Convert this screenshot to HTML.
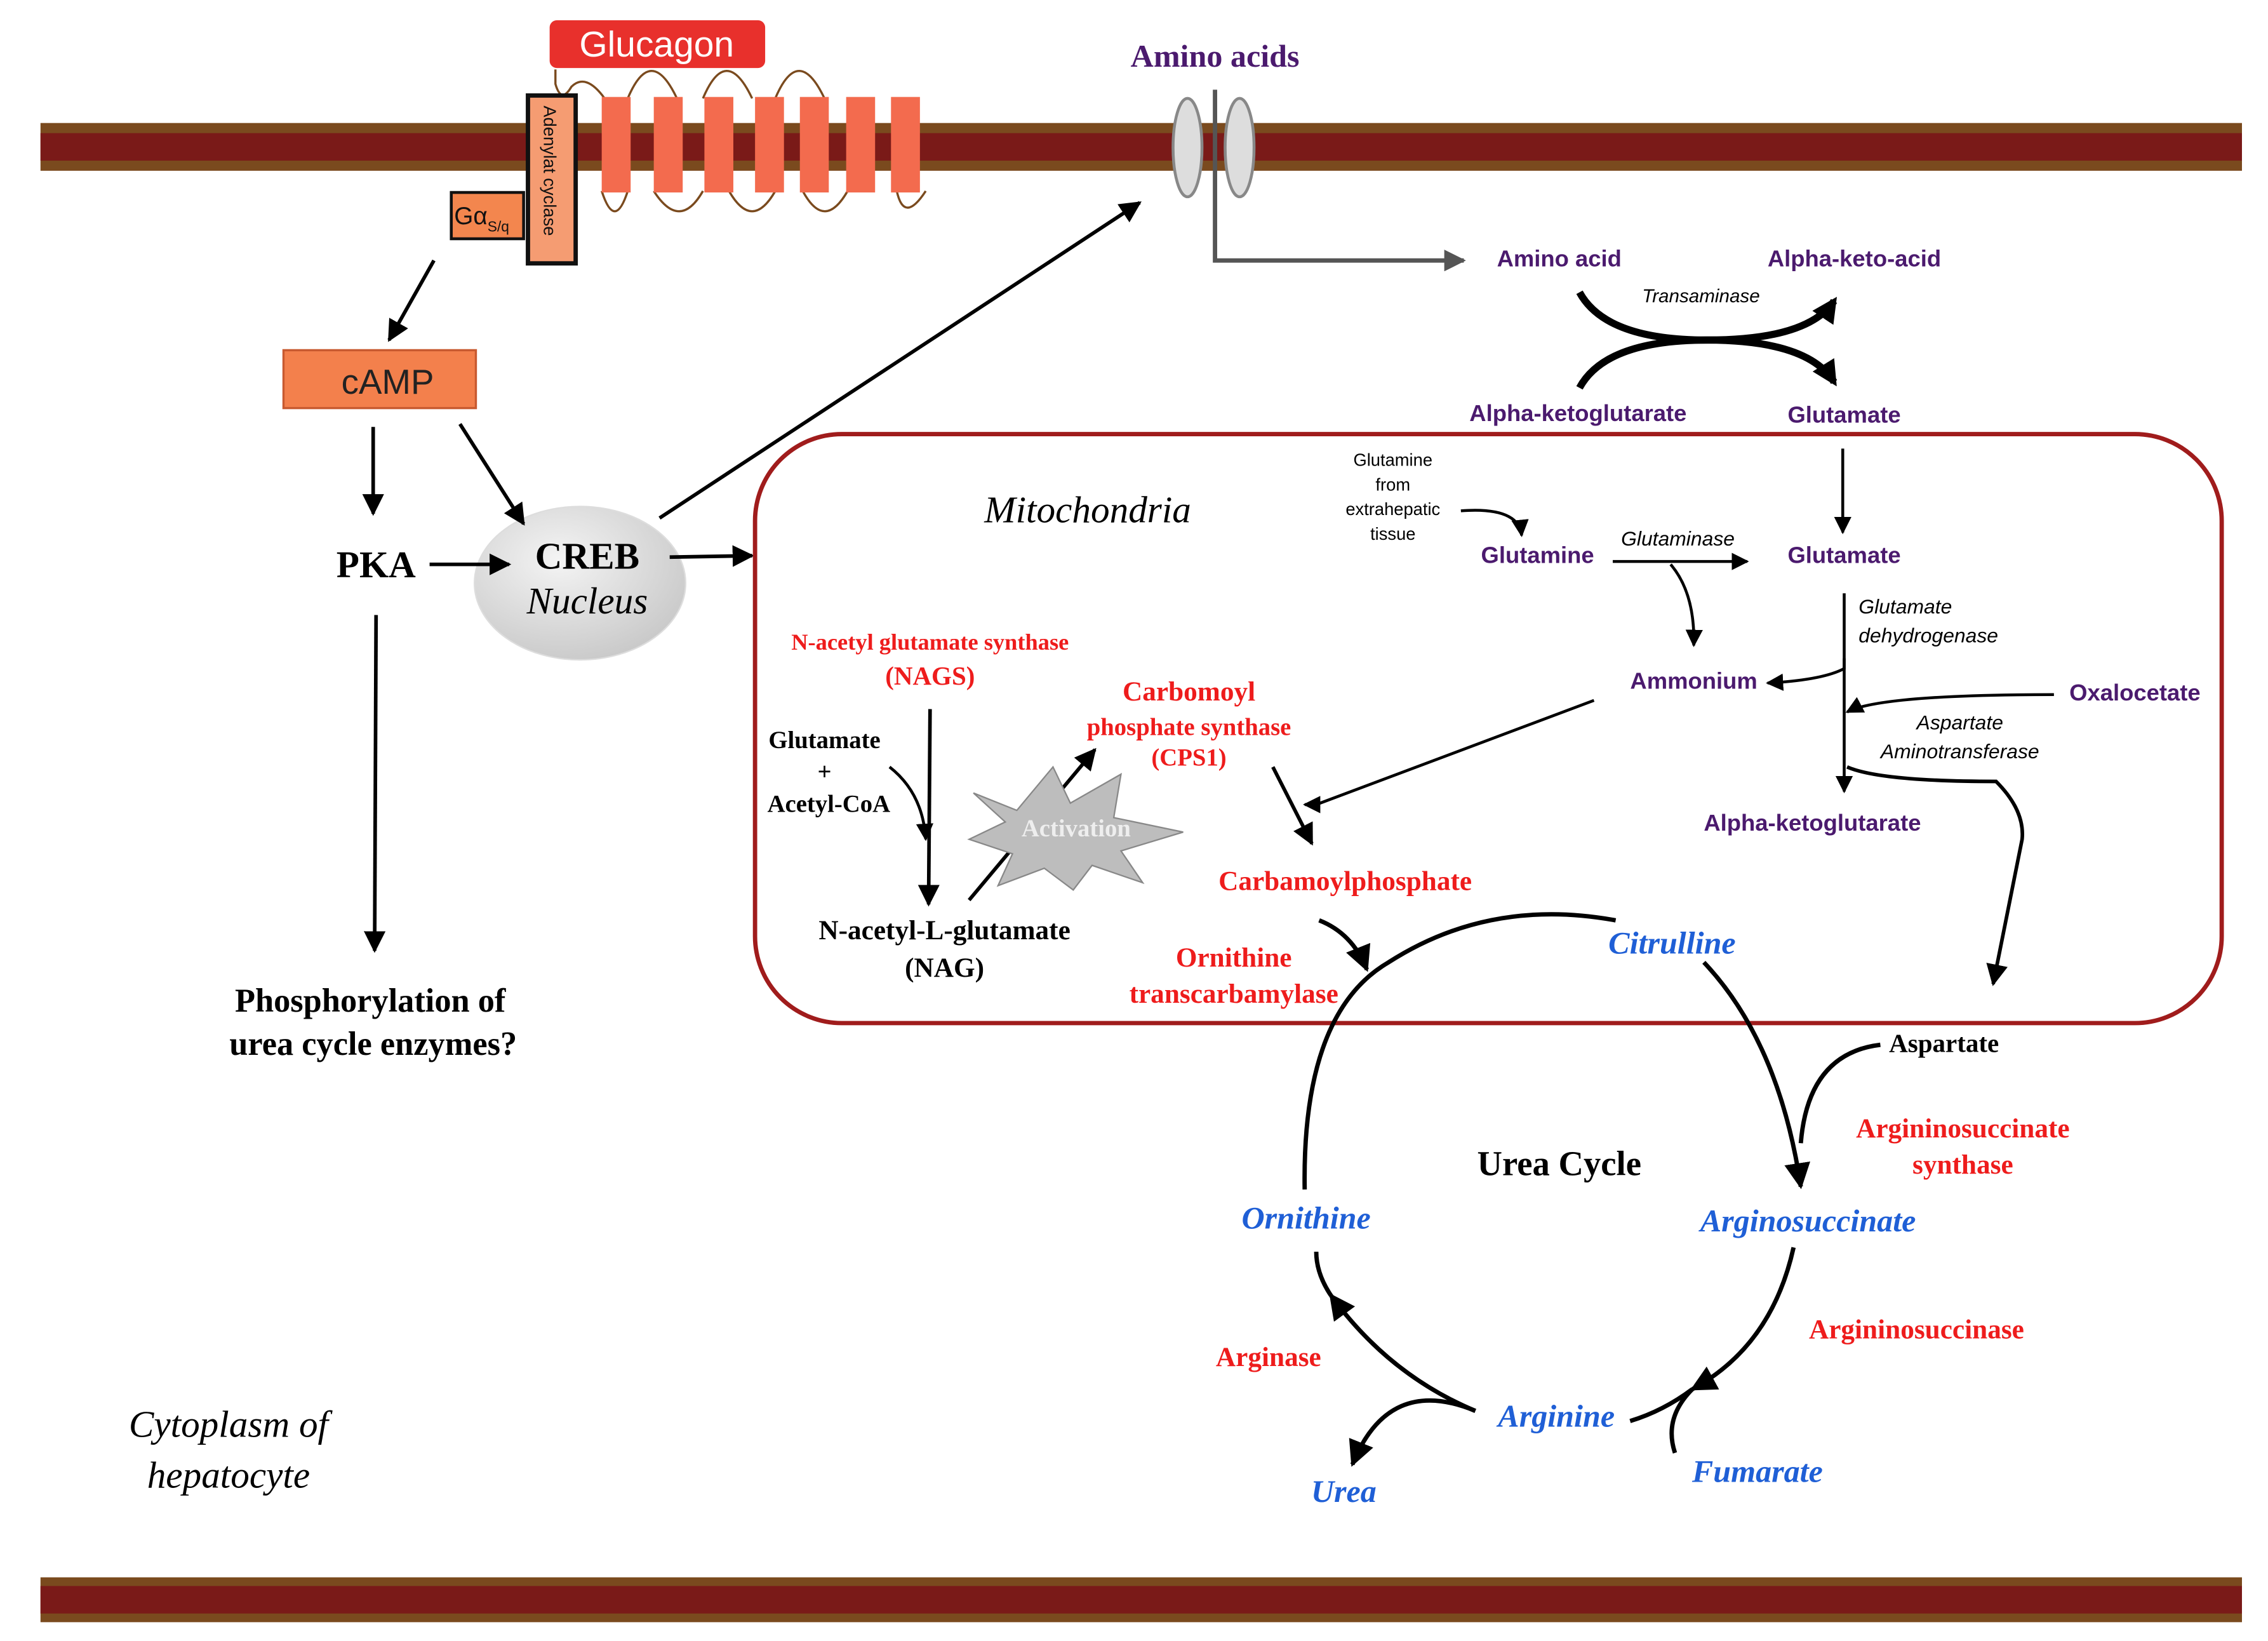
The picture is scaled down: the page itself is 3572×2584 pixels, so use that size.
<!DOCTYPE html>
<html><head><meta charset="utf-8"><style>
html,body{margin:0;padding:0;background:#fff}
svg{display:block}
.b{font-family:"Liberation Serif",serif;font-weight:bold}
.s{font-family:"Liberation Sans",sans-serif}
</style></head><body>
<svg width="3572" height="2584" viewBox="0 0 1568 1134" preserveAspectRatio="none" xmlns="http://www.w3.org/2000/svg">
<defs>
<marker id="a" viewBox="0 0 10 10" refX="9" refY="5" markerWidth="6" markerHeight="6" orient="auto"><path d="M0,0L10,5L0,10z" fill="#000"/></marker>
<marker id="k" viewBox="0 0 10 10" refX="8" refY="5" markerWidth="3.5" markerHeight="3.5" orient="auto"><path d="M0,0L10,5L0,10z" fill="#000"/></marker>
<marker id="g" viewBox="0 0 10 10" refX="9" refY="5" markerWidth="5" markerHeight="5" orient="auto"><path d="M0,0L10,5L0,10z" fill="#555"/></marker>
<radialGradient id="ng" cx="0.4" cy="0.35" r="0.7"><stop offset="0" stop-color="#f4f4f4"/><stop offset="1" stop-color="#c8c8c8"/></radialGradient>
</defs>
<rect x="28" y="85" width="1522" height="33" fill="#7a4a1e"/>
<rect x="28" y="92" width="1522" height="19" fill="#7a1a18"/>
<rect x="28" y="1090" width="1522" height="31" fill="#7a4a1e"/>
<rect x="28" y="1096" width="1522" height="19" fill="#7a1a18"/>
<path d="M384,48 L384,58 Q388,72 395,60 Q405,50 418,68 M434,68 Q450,30 468,68 M486,68 Q502,30 520,68 M536,68 Q552,30 570,68 M434,132 Q425,160 416,132 M486,132 Q470,160 452,132 M536,132 Q520,160 504,132 M586,132 Q570,160 555,132 M640,132 Q625,155 620,132" fill="none" stroke="#7a4a1e" stroke-width="1.5"/>
<g fill="#f36b4e">
<rect x="416" y="67" width="20" height="66"/><rect x="452" y="67" width="20" height="66"/><rect x="487" y="67" width="20" height="66"/><rect x="522" y="67" width="20" height="66"/><rect x="553" y="67" width="20" height="66"/><rect x="585" y="67" width="20" height="66"/><rect x="616" y="67" width="20" height="66"/>
</g>
<rect x="380" y="14" width="149" height="33" rx="5" fill="#e8302c"/>
<text x="454" y="39" text-anchor="middle" class="s" font-size="25" fill="#fff">Glucagon</text>
<rect x="365" y="66" width="33" height="116" fill="#f59c72" stroke="#111" stroke-width="3"/>
<text transform="translate(376,73) rotate(90)" class="s" font-size="12" fill="#111">Adenylat cyclase</text>
<rect x="312" y="133" width="50" height="32" fill="#f3864e" stroke="#111" stroke-width="2"/>
<text x="314" y="155" class="s" font-size="17" fill="#111">Gα<tspan font-size="10" dy="5">S/q</tspan></text>
<ellipse cx="821" cy="102" rx="10" ry="34" fill="#ddd" stroke="#888" stroke-width="2"/>
<ellipse cx="857" cy="102" rx="10" ry="34" fill="#ddd" stroke="#888" stroke-width="2"/>
<path d="M840,62 L840,180 L1012,180" fill="none" stroke="#555" stroke-width="3" marker-end="url(#g)"/>
<text x="840" y="46" text-anchor="middle" class="b" font-size="22" fill="#4b1a6e">Amino acids</text>
<rect x="196" y="242" width="133" height="40" fill="#f3804c" stroke="#c85a30" stroke-width="1.5"/>
<text x="268" y="272" text-anchor="middle" class="s" font-size="24" fill="#222">cAMP</text>
<ellipse cx="401" cy="403" rx="73" ry="53" fill="url(#ng)" stroke="#ddd"/>
<g stroke="#000" stroke-width="2.5" fill="none" marker-end="url(#a)">
<line x1="300" y1="180" x2="269" y2="235"/>
<line x1="258" y1="295" x2="258" y2="355"/>
<line x1="318" y1="293" x2="362" y2="362"/>
<line x1="297" y1="390" x2="352" y2="390"/>
<line x1="463" y1="385" x2="520" y2="384"/>
<line x1="456" y1="358" x2="788" y2="140"/>
<line x1="260" y1="425" x2="259" y2="657"/>
</g>
<text x="260" y="399" text-anchor="middle" class="b" font-size="26">PKA</text>
<text x="406" y="393" text-anchor="middle" class="b" font-size="26">CREB</text>
<text x="406" y="424" text-anchor="middle" font-family="Liberation Serif,serif" font-style="italic" font-size="26">Nucleus</text>
<text x="256" y="699" text-anchor="middle" class="b" font-size="23">Phosphorylation of</text>
<text x="258" y="729" text-anchor="middle" class="b" font-size="23">urea cycle enzymes?</text>
<text x="158" y="993" text-anchor="middle" font-family="Liberation Serif,serif" font-style="italic" font-size="26">Cytoplasm of</text>
<text x="158" y="1028" text-anchor="middle" font-family="Liberation Serif,serif" font-style="italic" font-size="26">hepatocyte</text>
<g class="s" font-weight="bold" font-size="16" fill="#4b1a6e">
<text x="1078" y="184" text-anchor="middle">Amino acid</text>
<text x="1282" y="184" text-anchor="middle">Alpha-keto-acid</text>
<text x="1091" y="291" text-anchor="middle">Alpha-ketoglutarate</text>
<text x="1275" y="292" text-anchor="middle">Glutamate</text>
<text x="1063" y="389" text-anchor="middle">Glutamine</text>
<text x="1275" y="389" text-anchor="middle">Glutamate</text>
<text x="1171" y="476" text-anchor="middle">Ammonium</text>
<text x="1476" y="484" text-anchor="middle">Oxalocetate</text>
<text x="1253" y="574" text-anchor="middle">Alpha-ketoglutarate</text>
</g>
<text x="1176" y="209" text-anchor="middle" class="s" font-style="italic" font-size="13">Transaminase</text>
<path d="M1092,202 Q1110,235 1180,235 Q1250,235 1268,208" fill="none" stroke="#000" stroke-width="5" marker-end="url(#k)"/>
<path d="M1092,268 Q1110,235 1180,235 Q1250,235 1268,264" fill="none" stroke="#000" stroke-width="5" marker-end="url(#k)"/>
<rect x="522" y="300" width="1014" height="407" rx="60" fill="none" stroke="#a01c1c" stroke-width="3"/>
<text x="752" y="361" text-anchor="middle" font-family="Liberation Serif,serif" font-style="italic" font-size="26">Mitochondria</text>
<g class="s" font-size="12" text-anchor="middle"><text x="963" y="322">Glutamine</text><text x="963" y="339">from</text><text x="963" y="356">extrahepatic</text><text x="963" y="373">tissue</text></g>
<g stroke="#000" stroke-width="2" fill="none" marker-end="url(#a)">
<line x1="1274" y1="310" x2="1274" y2="368"/>
<path d="M1010,353 Q1050,350 1052,370"/>
<line x1="1115" y1="388" x2="1208" y2="388"/>
<path d="M1155,390 Q1172,410 1171,446"/>
<path d="M1275,455 L1275,462 Q1260,470 1222,472"/>
<line x1="1275" y1="410" x2="1275" y2="547"/>
<path d="M1420,480 Q1300,480 1277,492"/>
<path d="M1277,530 Q1300,540 1380,540 Q1400,560 1398,580 L1378,680" stroke-width="2.5"/>
<path d="M1102,484 L910,556 L902,556"/>
<path d="M880,530 L907,583" stroke-width="2.5"/>
<line x1="643" y1="490" x2="642" y2="625" stroke-width="2.5"/>
<path d="M615,530 Q638,548 640,580"/>
<line x1="670" y1="622" x2="757" y2="518" stroke-width="2.5"/>
</g>
<g class="s" font-style="italic" font-size="14">
<text x="1160" y="377" text-anchor="middle">Glutaminase</text>
<text x="1285" y="424">Glutamate</text><text x="1285" y="444">dehydrogenase</text>
<text x="1355" y="504" text-anchor="middle">Aspartate</text><text x="1355" y="524" text-anchor="middle">Aminotransferase</text>
</g>
<g class="b" fill="#ee1c1c">
<text x="643" y="449" text-anchor="middle" font-size="16">N-acetyl glutamate synthase</text>
<text x="643" y="473" text-anchor="middle" font-size="18">(NAGS)</text>
<text x="822" y="484" text-anchor="middle" font-size="19">Carbomoyl</text>
<text x="822" y="508" text-anchor="middle" font-size="17">phosphate synthase</text>
<text x="822" y="529" text-anchor="middle" font-size="17">(CPS1)</text>
<text x="930" y="615" text-anchor="middle" font-size="19">Carbamoylphosphate</text>
<text x="853" y="668" text-anchor="middle" font-size="19">Ornithine</text>
<text x="853" y="693" text-anchor="middle" font-size="19">transcarbamylase</text>
<text x="1357" y="786" text-anchor="middle" font-size="19">Argininosuccinate</text>
<text x="1357" y="811" text-anchor="middle" font-size="19">synthase</text>
<text x="1325" y="925" text-anchor="middle" font-size="19">Argininosuccinase</text>
<text x="877" y="944" text-anchor="middle" font-size="19">Arginase</text>
</g>
<g class="b" font-size="17">
<text x="570" y="517" text-anchor="middle">Glutamate</text>
<text x="570" y="539" text-anchor="middle">+</text>
<text x="573" y="561" text-anchor="middle">Acetyl-CoA</text>
<text x="653" y="649" text-anchor="middle" font-size="19">N-acetyl-L-glutamate</text>
<text x="653" y="675" text-anchor="middle" font-size="19">(NAG)</text>
<text x="1344" y="727" text-anchor="middle" font-size="18">Aspartate</text>
<text x="1078" y="812" text-anchor="middle" font-size="24">Urea Cycle</text>
</g>
<polygon points="673,548 703,560 728,530 740,555 775,535 770,565 818,575 775,588 790,610 755,598 742,615 722,600 690,612 700,590 670,580 695,568" fill="#bdbdbd" stroke="#888"/>
<text x="744" y="578" text-anchor="middle" class="b" font-size="17" fill="#eee">Activation</text>
<g stroke="#000" stroke-width="3" fill="none">
<path d="M902,822 Q900,700 960,665 Q1030,620 1117,636"/>
<path d="M1178,665 Q1230,720 1245,820" marker-end="url(#a)"/>
<path d="M1300,722 Q1250,728 1245,790"/>
<path d="M1240,862 Q1225,930 1170,960" marker-end="url(#a)"/>
<path d="M1158,1004 Q1150,980 1170,960 Q1150,975 1127,982"/>
<path d="M1020,975 Q960,950 920,895" marker-end="url(#a)"/>
<path d="M1020,975 Q960,950 935,1012" marker-end="url(#a)"/>
<path d="M910,865 Q910,880 920,895"/>
<path d="M912,636 Q935,645 945,670" marker-end="url(#a)"/>
</g>
<g class="b" font-style="italic" font-size="22" fill="#1f5fd6" text-anchor="middle">
<text x="1156" y="659">Citrulline</text>
<text x="1250" y="851">Arginosuccinate</text>
<text x="903" y="849">Ornithine</text>
<text x="1076" y="986">Arginine</text>
<text x="1215" y="1024">Fumarate</text>
<text x="929" y="1038">Urea</text>
</g>
</svg>
</body></html>
